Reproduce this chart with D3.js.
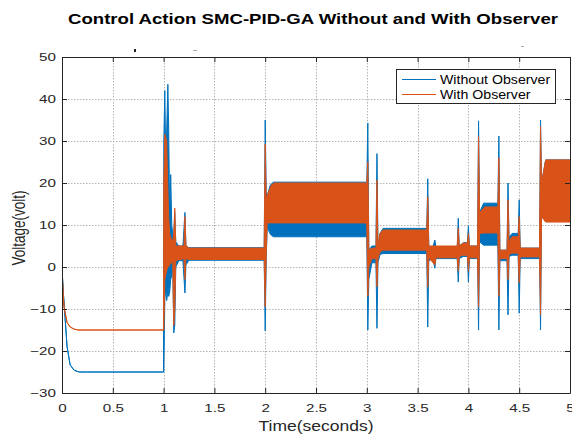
<!DOCTYPE html>
<html><head><meta charset="utf-8">
<script src="https://cdn.jsdelivr.net/npm/d3@7"></script>
<style>body{margin:0;background:#fff}svg{display:block;font-family:Arial,"Liberation Sans",sans-serif}</style>
</head><body>
<svg id="c" width="572" height="436"></svg>
<script>
const xTicks = [0,0.5,1,1.5,2,2.5,3,3.5,4,4.5,5];
const xTickLabels = ["0","0.5","1","1.5","2","2.5","3","3.5","4","4.5","5"];
const yTicks = [-30,-20,-10,0,10,20,30,40,50];
const seriesNames = ["Without Observer","With Observer"];

// Without Observer: time, upper and lower envelope of the dense signal
const timeBlue = [0,0.01,0.03,0.05,0.08,0.12,0.17,0.25,0.999,
 1.002,1.012,1.02,1.03,1.042,1.05,1.06,1.07,1.08,1.09,1.10,1.11,1.12,1.15,1.19,1.21,1.22,1.25,1.99,
 2.00,2.01,2.02,2.05,2.08,2.99,3.00,3.01,3.02,3.05,3.09,3.10,3.11,3.13,3.16,3.59,
 3.60,3.61,3.65,3.67,3.68,3.89,3.90,3.91,3.95,3.99,4.00,4.01,4.09,
 4.10,4.11,4.15,4.29,4.30,4.31,4.38,4.39,4.40,4.43,4.49,4.50,4.51,4.70,4.71,4.72,4.76,5.00];
const hiBlue = [0,-5,-12,-19,-23.3,-24.6,-25,-25,-25,
 30,42,28,32,43.5,33,12,22,10,8,7,13,6,5,5,13,5,4.6,4.6,
 35,18,17,19.5,20.2,20.2,20,34.3,4,5,5,27,5,8,9.2,9.2,
 21,5,4.8,6.4,4.8,4.8,11.6,5,5.8,5.8,9.8,5,5,
 34.8,13,15.2,15.2,31.2,4,4,20,7,8,8,16,4.5,4.5,35,20,25.5,25.5];
const loBlue = [0,-5,-12,-19,-23.3,-24.6,-25,-25,-25,
 -25,-8,-5,-8,-6,-7,-6,-3,-2,0,-15.7,-14,0,1.5,1.5,-6.2,0.5,1.6,1.6,
 -15.2,2,9.5,7.8,7.2,7.2,7,-15,-3,1,1,-14.6,1,3,3.2,3.2,
 -14.3,1.5,2,-0.3,2,2,-3.6,2,2.5,2.5,-3.6,2,2,
 -15,6,5.2,5.2,-15,1.5,1.5,-11.4,2.5,2.8,2.8,-11,2,2,-15,12,11,11];

// With Observer
const timeOrange = [0,0.01,0.02,0.05,0.08,0.12,0.16,0.25,0.999,
 1.002,1.012,1.02,1.03,1.04,1.05,1.06,1.07,1.09,1.10,1.11,1.12,1.20,1.21,1.22,1.25,1.99,
 2.00,2.01,2.02,2.06,2.09,2.99,3.00,3.01,3.02,3.05,3.09,3.10,3.11,3.13,3.16,3.59,
 3.60,3.61,3.67,3.68,3.89,3.90,3.91,3.95,3.99,4.00,4.01,4.09,
 4.10,4.11,4.16,4.29,4.30,4.31,4.38,4.39,4.40,4.43,4.49,4.50,4.51,4.70,4.71,4.72,4.76,5.00];
const hiOrange = [0,-6,-9.5,-13.2,-14.3,-14.8,-15,-15,-15,
 20,31.6,31,30,20,12,8,7,6,8,14,5,5,12,5,4.5,4.5,
 29.3,16,17,19.5,20,20,20,25,4,4.5,4.5,20.7,5,8,8.8,8.8,
 16.7,5,5,5,5,9.2,5,5.7,5.7,8,5,5,
 31,12.9,14.3,14.3,26,4,4,16,6,7.2,7.2,12,4.5,4.5,33.4,20,25.5,25.5];
const loOrange = [0,-6,-9.5,-13.2,-14.3,-14.8,-15,-15,-15,
 -15,-3,-2,-1,0,0,0.5,1,1,-13.9,-10,1.5,2,-3,2,1.8,1.8,
 -9.5,3,10.5,10.5,10.5,10.5,10,-7,0,2,2,-4.7,2,3.6,4,4,
 -4.8,2.2,0.5,2.2,2.2,-1,2.5,2.8,2.8,-1,2.2,2.2,
 -9.5,8,8.1,8.1,-7,2,2,-3,3,3.3,3.3,-3.8,2.4,2.4,-11.4,12,10.7,10.7];

const colors = ["#0072BD","#D95319"];

const svg = d3.select("#c");
const L=62,R=570,T=57,B=393;
const x = d3.scaleLinear().domain([0,5]).range([L,R]);
const y = d3.scaleLinear().domain([-30,50]).range([B,T]);

function stretch(sel,k){
  sel.each(function(){
    const w=this.getComputedTextLength();
    d3.select(this).attr("textLength",w*k).attr("lengthAdjust","spacingAndGlyphs");
  });
}

// grid
const grid = svg.append("g").attr("stroke","#b4b4b4").attr("stroke-width",1).attr("stroke-dasharray","1.5,1.5");
xTicks.forEach(t=>grid.append("line").attr("x1",Math.round(x(t))+0.5).attr("x2",Math.round(x(t))+0.5).attr("y1",T).attr("y2",B));
yTicks.forEach(t=>grid.append("line").attr("y1",Math.round(y(t))+0.5).attr("y2",Math.round(y(t))+0.5).attr("x1",L).attr("x2",R));

svg.append("defs").append("clipPath").attr("id","clip").append("rect").attr("x",L).attr("y",T).attr("width",R-L).attr("height",B-T);

function band(ts,hi,lo,col){
  const data = ts.map((t,i)=>({t,h:hi[i],l:lo[i]}));
  const area = d3.area().x(d=>x(d.t)).y0(d=>y(d.l)).y1(d=>y(d.h));
  svg.append("path").attr("clip-path","url(#clip)").attr("d",area(data))
    .attr("fill",col).attr("stroke",col).attr("stroke-width",1).attr("stroke-linejoin","round");
}
band(timeBlue,hiBlue,loBlue,colors[0]);
band(timeOrange,hiOrange,loOrange,colors[1]);

// axes
const xa = d3.axisBottom(x).tickValues(xTicks).tickFormat((d,i)=>xTickLabels[i]).tickSizeInner(-5).tickSizeOuter(0);
const ya = d3.axisLeft(y).tickValues(yTicks).tickSizeInner(-5).tickSizeOuter(0).tickPadding(6);
const xt = d3.axisTop(x).tickValues(xTicks).tickFormat("").tickSizeInner(-5).tickSizeOuter(0);
const yr = d3.axisRight(y).tickValues(yTicks).tickFormat("").tickSizeInner(-5).tickSizeOuter(0);
[[xa,`translate(0,${B})`,"x"],[ya,`translate(${L},0)`,"y"],[xt,`translate(0,${T})`,""],[yr,`translate(${R},0)`,""]].forEach(([a,tr,k])=>{
  const g = svg.append("g").attr("transform",tr).call(a);
  g.selectAll("path").attr("stroke","#262626");
  g.selectAll("line").attr("stroke","#262626");
  const t = g.selectAll("text").attr("font-size",11.5).attr("fill","#262626").attr("font-family","Arial, 'Liberation Sans', sans-serif");
  if(k==="x") t.attr("y",19).attr("dy",0);
  if(k) stretch(t,1.32);
});

// titles
const title = svg.append("text").attr("x",313).attr("y",24).attr("text-anchor","middle").attr("font-size",15.5).attr("font-weight","bold").attr("fill","#000")
  .text("Control Action SMC-PID-GA Without and With Observer");
title.attr("textLength",490).attr("lengthAdjust","spacingAndGlyphs");
const xl = svg.append("text").attr("x",316).attr("y",431).attr("text-anchor","middle").attr("font-size",14).attr("fill","#262626").text("Time(seconds)");
xl.attr("textLength",115).attr("lengthAdjust","spacingAndGlyphs");
svg.append("text").attr("transform","translate(25,228) scale(1.3,1) rotate(-90)").attr("text-anchor","middle").attr("font-size",13.5).attr("fill","#262626").text("Voltage(volt)");

// stray marks at top edge
svg.append("rect").attr("x",134).attr("y",49).attr("width",2).attr("height",3).attr("fill","#222");
svg.append("rect").attr("x",193).attr("y",50).attr("width",4).attr("height",1).attr("fill","#aaa");
svg.append("rect").attr("x",521).attr("y",46).attr("width",3).attr("height",1).attr("fill","#aaa");

// legend
const lg = svg.append("g");
lg.append("rect").attr("x",396.5).attr("y",69.5).attr("width",159).attr("height",34).attr("fill","#fff").attr("stroke","#262626").attr("stroke-width",1);
seriesNames.forEach((n,i)=>{
  const yy = 79+i*15;
  lg.append("line").attr("x1",402).attr("x2",436).attr("y1",yy+0.5).attr("y2",yy+0.5).attr("stroke",colors[i]).attr("stroke-width",1);
  const t = lg.append("text").attr("x",440).attr("y",yy+5).attr("font-size",12).attr("fill","#000").text(n);
  stretch(t,1.18);
});
</script>
</body></html>
